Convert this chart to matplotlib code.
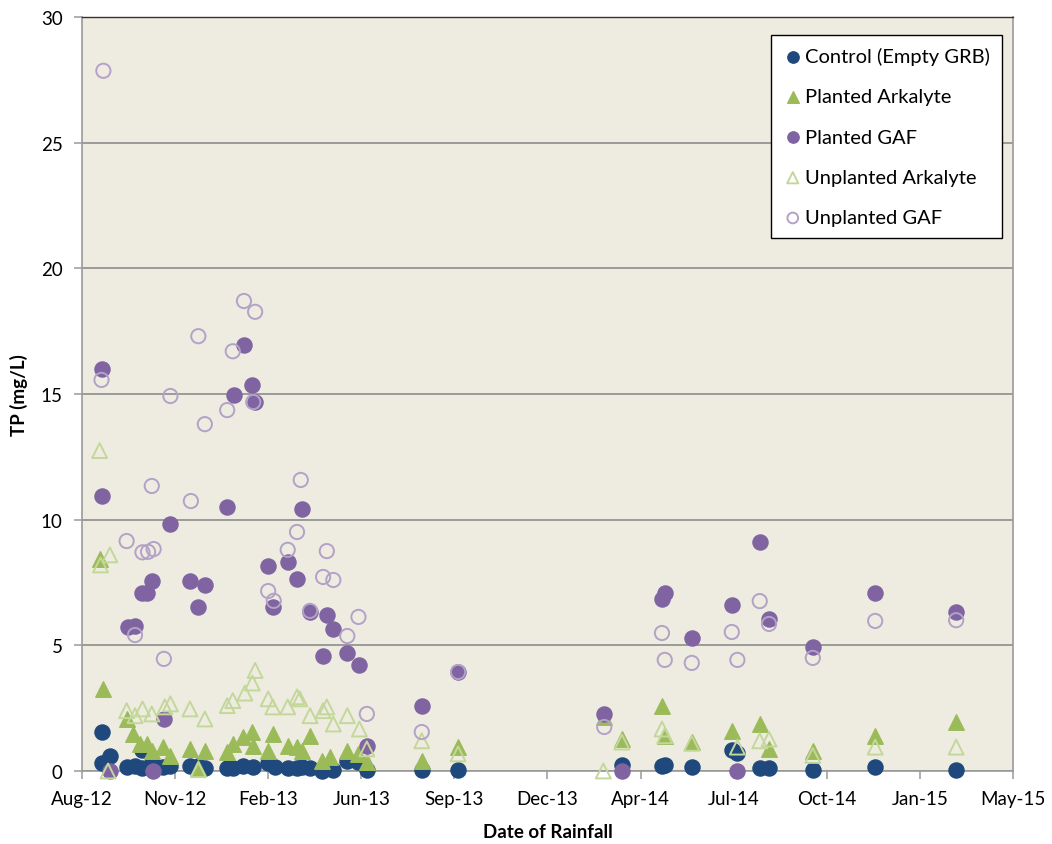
import numpy as np
import matplotlib
matplotlib.use("Agg")
import matplotlib.pyplot as plt
import matplotlib.dates as mdates
from datetime import datetime, timedelta

plt.rcParams['font.family'] = ['Lato', 'DejaVu Sans']

# Control (Empty GRB)
ctrl_dates = ['2012-08-31', '2012-09-01', '2012-09-09', '2012-09-27', '2012-10-06', '2012-10-14',
              '2012-10-13', '2012-10-24', '2012-11-05', '2012-11-13', '2012-12-04', '2012-12-13',
              '2012-12-20', '2013-01-13', '2013-01-19', '2013-01-30', '2013-02-10', '2013-02-26',
              '2013-03-05', '2013-03-19', '2013-03-29', '2013-04-03', '2013-04-12', '2013-04-25',
              '2013-04-30', '2013-05-07', '2013-05-22', '2013-06-02', '2013-06-12', '2013-08-10',
              '2013-09-18', '2014-03-13', '2014-04-25', '2014-04-28', '2014-05-27', '2014-07-09',
              '2014-07-15', '2014-08-08', '2014-08-18', '2014-10-04', '2014-12-10', '2015-03-07']
ctrl_tp = [1.55, 0.3, 0.6, 0.15, 0.2, 0.85,
           0.1, 0.3, 0.15, 0.2, 0.2, 0.2,
           0.1, 0.1, 0.1, 0.2, 0.15, 0.3,
           0.15, 0.1, 0.1, 0.15, 0.1, 0.0,
           0.1, 0.05, 0.4, 0.35, 0.05, 0.02,
           0.02, 0.25, 0.2, 0.25, 0.15, 0.85,
           0.7, 0.1, 0.1, 0.05, 0.15, 0.05]

# Planted Arkalyte
pa_dates = ['2012-08-29', '2012-09-02', '2012-09-27', '2012-10-04', '2012-10-11', '2012-10-19',
            '2012-10-24', '2012-11-05', '2012-11-13', '2012-12-04', '2012-12-13', '2012-12-20',
            '2013-01-13', '2013-01-19', '2013-01-30', '2013-02-09', '2013-02-10', '2013-02-26',
            '2013-03-03', '2013-03-19', '2013-03-29', '2013-04-03', '2013-04-12', '2013-04-25',
            '2013-05-03', '2013-05-22', '2013-06-02', '2013-06-12', '2013-08-10', '2013-09-18',
            '2014-02-22', '2014-03-13', '2014-04-25', '2014-04-28', '2014-05-27', '2014-07-09',
            '2014-08-08', '2014-08-18', '2014-10-04', '2014-12-10', '2015-03-07']
pa_tp = [8.45, 3.26, 2.07, 1.47, 1.07, 1.07,
         0.8, 0.95, 0.6, 0.88, 0.1, 0.8,
         0.75, 1.07, 1.35, 1.55, 1.0, 0.8,
         1.47, 1.0, 0.95, 0.8, 1.4, 0.4,
         0.55, 0.8, 0.68, 0.35, 0.4, 0.95,
         2.15, 1.27, 2.6, 1.4, 1.15, 1.6,
         1.87, 0.88, 0.78, 1.4, 1.95]

# Planted GAF
pg_dates = ['2012-08-31', '2012-08-31', '2012-09-09', '2012-09-28', '2012-10-06', '2012-10-13',
            '2012-10-19', '2012-10-24', '2012-10-25', '2012-11-06', '2012-11-13', '2012-12-04',
            '2012-12-13', '2012-12-20', '2013-01-13', '2013-01-20', '2013-01-31', '2013-02-09',
            '2013-02-12', '2013-02-26', '2013-03-03', '2013-03-19', '2013-03-29', '2013-04-03',
            '2013-04-12', '2013-04-26', '2013-04-30', '2013-05-07', '2013-05-22', '2013-06-04',
            '2013-06-12', '2013-08-10', '2013-09-18', '2014-02-22', '2014-03-13', '2014-04-25',
            '2014-04-28', '2014-05-27', '2014-07-09', '2014-07-15', '2014-08-08', '2014-08-18',
            '2014-10-04', '2014-12-10', '2015-03-07']
pg_tp = [16.0, 10.95, 0.0, 5.73, 5.77, 7.1,
         7.1, 7.56, 0.0, 2.07, 9.83, 7.56,
         6.53, 7.4, 10.5, 14.96, 16.95, 15.36,
         14.68, 8.16, 6.53, 8.32, 7.64, 10.43,
         6.33, 4.58, 6.2, 5.65, 4.7, 4.22,
         1.0, 2.6, 3.94, 2.27, 0.0, 6.84,
         7.1, 5.3, 6.6, 0.0, 9.1, 6.05,
         4.93, 7.08, 6.33]

# Unplanted Arkalyte
ua_dates = ['2012-08-29', '2012-08-30', '2012-09-09', '2012-09-07', '2012-09-27', '2012-10-06',
            '2012-10-14', '2012-10-24', '2012-11-07', '2012-11-13', '2012-12-04', '2012-12-13',
            '2012-12-20', '2013-01-13', '2013-01-19', '2013-02-01', '2013-02-09', '2013-02-12',
            '2013-02-26', '2013-03-03', '2013-03-19', '2013-03-29', '2013-04-01', '2013-04-12',
            '2013-04-26', '2013-04-30', '2013-05-07', '2013-05-22', '2013-06-04', '2013-06-12',
            '2013-08-10', '2013-09-18', '2014-02-21', '2014-03-13', '2014-04-25', '2014-04-28',
            '2014-05-27', '2014-07-15', '2014-08-08', '2014-08-18', '2014-10-04', '2014-12-10',
            '2015-03-07']
ua_tp = [12.75, 8.2, 8.6, 0.0, 2.4, 2.2,
         2.47, 2.27, 2.55, 2.67, 2.47, 0.05,
         2.07, 2.6, 2.8, 3.1, 3.5, 4.0,
         2.87, 2.55, 2.55, 2.95, 2.87, 2.2,
         2.4, 2.55, 1.87, 2.2, 1.67, 0.88,
         1.2, 0.68, 0.0, 1.15, 1.67, 1.4,
         1.1, 0.95, 1.2, 1.27, 0.62, 0.95,
         0.95]

# Unplanted GAF
ug_dates = ['2012-09-02', '2012-08-31', '2012-09-27', '2012-10-06', '2012-10-14', '2012-10-20',
            '2012-10-24', '2012-10-26', '2012-11-06', '2012-11-13', '2012-12-05', '2012-12-13',
            '2012-12-20', '2013-01-13', '2013-01-19', '2013-01-31', '2013-02-10', '2013-02-12',
            '2013-02-26', '2013-03-04', '2013-03-19', '2013-03-29', '2013-04-02', '2013-04-12',
            '2013-04-26', '2013-04-30', '2013-05-07', '2013-05-22', '2013-06-03', '2013-06-12',
            '2013-08-10', '2013-09-18', '2014-02-22', '2014-04-25', '2014-04-28', '2014-05-27',
            '2014-07-09', '2014-07-15', '2014-08-08', '2014-08-18', '2014-10-04', '2014-12-10',
            '2015-03-07']
ug_tp = [27.86, 15.56, 9.15, 5.41, 8.7, 8.72,
         11.34, 8.83, 4.46, 14.92, 10.74, 17.3,
         13.8, 14.36, 16.7, 18.7, 14.68, 18.27,
         7.16, 6.77, 8.8, 9.51, 11.58, 6.37,
         7.72, 8.75, 7.6, 5.37, 6.13, 2.27,
         1.55, 3.94, 1.75, 5.49, 4.42, 4.3,
         5.53, 4.42, 6.76, 5.85, 4.5, 5.97,
         6.0]

labels = ['Control (Empty GRB)', 'Planted Arkalyte', 'Planted GAF',
          'Unplanted Arkalyte', 'Unplanted GAF']


def to_dt(lst):
    return [datetime.strptime(s, '%Y-%m-%d') for s in lst]


fig = plt.figure(figsize=(10.52, 8.45), dpi=100)
ax = fig.add_axes([0.0779, 0.0864, 0.885, 0.8923])
ax.set_facecolor('#EEECE1')

# markers are not clipped at the axis, same as Excel
ax.scatter(to_dt(ctrl_dates), ctrl_tp, s=118, marker='o', color='#1F497D', label=labels[0],
           zorder=3, clip_on=False)
ax.scatter(to_dt(pa_dates), pa_tp, s=125, marker='^', color='#9BBB59', label=labels[1],
           zorder=3, clip_on=False)
ax.scatter(to_dt(pg_dates), pg_tp, s=118, marker='o', color='#8064A2', label=labels[2],
           zorder=3, clip_on=False)
ax.scatter(to_dt(ua_dates), ua_tp, s=115, marker='^', facecolors='none', edgecolors='#C4D79B',
           linewidths=1.4, label=labels[3], zorder=3, clip_on=False)
ax.scatter(to_dt(ug_dates), ug_tp, s=105, marker='o', facecolors='none', edgecolors='#B3A2C7',
           linewidths=1.4, label=labels[4], zorder=3, clip_on=False)

# Excel-style date axis: 100-day major unit
start = datetime(2012, 8, 10)
ticks = [start + timedelta(days=100 * i) for i in range(11)]
ax.set_xlim(ticks[0], ticks[-1])
ax.set_xticks(ticks)
ax.xaxis.set_major_formatter(mdates.DateFormatter('%b-%y'))
ax.set_ylim(0, 30)
ax.set_yticks(np.arange(0, 31, 5))

ax.grid(axis='y', color='#8C8C8C', linewidth=1.2, zorder=1)
ax.set_axisbelow(True)
for side in ['left', 'bottom', 'right']:
    ax.spines[side].set_color('#9A9A9A')
    ax.spines[side].set_linewidth(1.2)
ax.spines['top'].set_color('#333333')
ax.spines['top'].set_linewidth(1.0)

ax.tick_params(axis='both', direction='out', length=6, width=1.1, color='#9A9A9A',
               labelsize=13.5, labelcolor='#000000', pad=8)

ax.set_xlabel('Date of Rainfall', fontsize=13.5, fontweight='bold', labelpad=11)
ax.set_ylabel('TP (mg/L)', fontsize=13.5, fontweight='bold', labelpad=9)

leg = ax.legend(loc='upper right', bbox_to_anchor=(0.988, 0.976), borderaxespad=0,
                fontsize=14.5, frameon=True, fancybox=False, framealpha=1,
                edgecolor='#000000', facecolor='white', markerscale=0.75,
                handletextpad=0.1, handlelength=1.0, labelspacing=1.15,
                borderpad=0.6, scatterpoints=1)
leg.get_frame().set_linewidth(1.0)
leg.set_zorder(5)

fig.savefig('out.png', dpi=100, facecolor='white')
